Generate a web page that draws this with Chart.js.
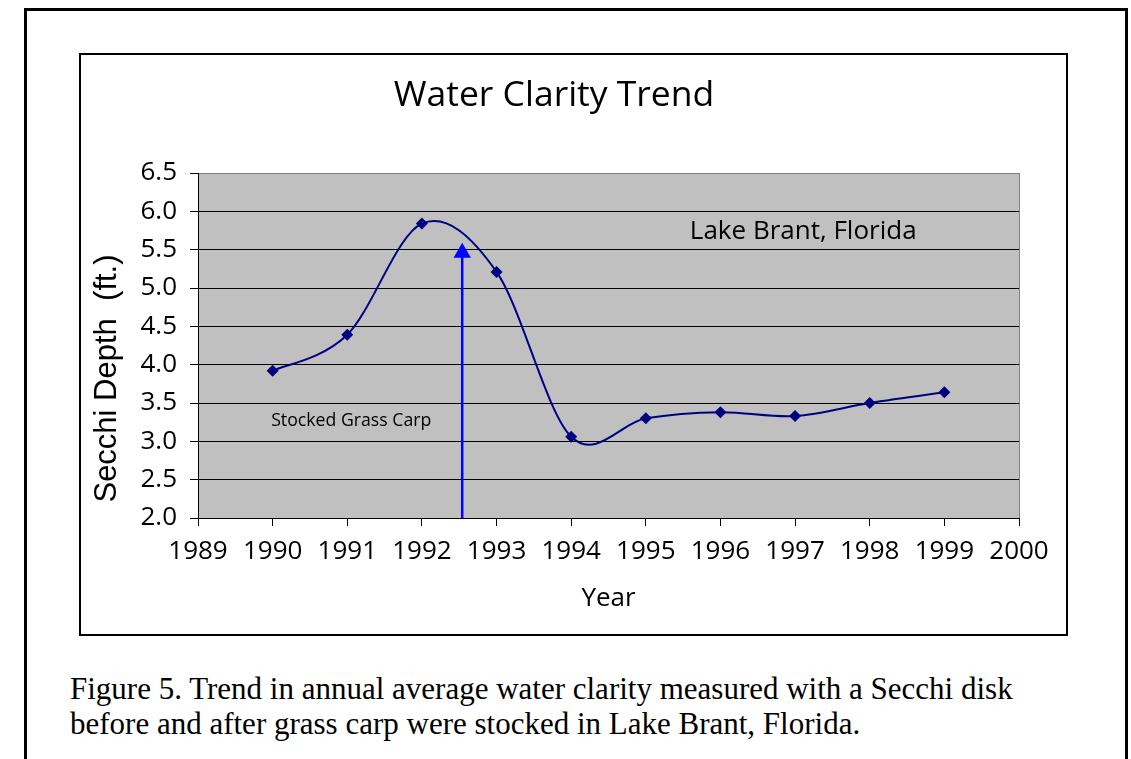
<!DOCTYPE html>
<html>
<head>
<meta charset="utf-8">
<script src="https://cdn.jsdelivr.net/npm/chart.js@4/dist/chart.umd.min.js"></script>
<style>
    body { margin: 0; background: #fff; width: 1131px; height: 759px; overflow: hidden; position: relative; }
    #outer { position: absolute; left: 24px; top: 8px; width: 1098px; height: 800px; border: 3px solid #000; }
    #inner { position: absolute; left: 79px; top: 53px; width: 985px; height: 579px; border: 2px solid #000; }
    #caption { position: absolute; left: 70px; top: 671px; font-family: "Liberation Serif", "Times New Roman", serif;
        font-size: 31px; line-height: 35px; color: #000; white-space: nowrap; }
</style>
</head>
<body>
<div id="outer"></div>
<div id="inner"><canvas id="water-clarity" width="985" height="579"></canvas></div>
<div id="caption">Figure 5. Trend in annual average water clarity measured with a Secchi disk<br>before and after grass carp were stocked in Lake Brant, Florida.</div>
<script>
const years = [1990, 1991, 1992, 1993, 1994, 1995, 1996, 1997, 1998, 1999];
const secchiDepth = [3.92, 4.39, 5.84, 5.21, 3.06, 3.30, 3.38, 3.33, 3.50, 3.64];
const yearTicks = [1989, 1990, 1991, 1992, 1993, 1994, 1995, 1996, 1997, 1998, 1999, 2000];
const depthTicks = [2.0, 2.5, 3.0, 3.5, 4.0, 4.5, 5.0, 5.5, 6.0, 6.5];
const stockingYear = 1992.54;
const arrowDepths = [2.0, 5.46];

const fontFamily = "'Open Sans', sans-serif";

// spreadsheet-style smoothed line: control points at 1/6 of the neighbour chord
const smoothLine = {
    id: 'smoothLine',
    beforeDatasetsDraw(chart) {
        const meta = chart.getDatasetMeta(0);
        meta.dataset.updateControlPoints(chart.chartArea, 'x');
        const pts = meta.data;
        const n = pts.length;
        for (let i = 0; i < n; i++) {
            const prev = pts[Math.max(i - 1, 0)];
            const next = pts[Math.min(i + 1, n - 1)];
            const tx = (next.x - prev.x) / 6;
            const ty = (next.y - prev.y) / 6;
            pts[i].cp1x = pts[i].x - tx;
            pts[i].cp1y = pts[i].y - ty;
            pts[i].cp2x = pts[i].x + tx;
            pts[i].cp2y = pts[i].y + ty;
        }
    }
};

// background, right frame edge and the text notes inside the plot
const plotDecorations = {
    id: 'plotDecorations',
    beforeDraw(chart) {
        const {ctx, chartArea: a} = chart;
        ctx.save();
        ctx.fillStyle = '#c0c0c0';
        ctx.fillRect(a.left, a.top, a.right - a.left, a.bottom - a.top);
        ctx.restore();
    },
    beforeDatasetsDraw(chart) {
        const {ctx, chartArea: a} = chart;
        ctx.save();
        ctx.strokeStyle = '#808080';
        ctx.lineWidth = 1;
        ctx.beginPath();
        ctx.moveTo(a.right + 0.5, a.top);
        ctx.lineTo(a.right + 0.5, a.bottom);
        ctx.stroke();
        ctx.restore();
    },
    afterDraw(chart) {
        const {ctx, chartArea: a, scales: {x, y}} = chart;
        ctx.save();
        ctx.fillStyle = '#000';
        ctx.textBaseline = 'middle';
        ctx.textAlign = 'left';
        ctx.font = '26px ' + fontFamily;
        ctx.fillText('Lake Brant, Florida', x.getPixelForValue(1995.59), y.getPixelForValue(5.73));
        ctx.font = '17.7px ' + fontFamily;
        ctx.fillText('Stocked Grass Carp', x.getPixelForValue(1989.98), y.getPixelForValue(3.27));

        ctx.translate(26, (a.top + a.bottom) / 2 + 33);
        ctx.rotate(-Math.PI / 2);
        ctx.textAlign = 'center';
        ctx.font = "31px 'Liberation Sans', Arial, sans-serif";
        ctx.fillText('Secchi Depth  (ft.)', 0, 0);
        ctx.restore();
    }
};

function renderWaterClarityChart() {
    new Chart(document.getElementById('water-clarity'), {
        type: 'line',
        data: {
            datasets: [{
                label: 'Secchi Depth',
                data: years.map((year, i) => ({x: year, y: secchiDepth[i]})),
                borderColor: '#000080',
                backgroundColor: '#000080',
                borderWidth: 2,
                tension: 0.4,
                pointStyle: 'rectRot',
                pointRadius: 6,
                pointBorderWidth: 0
            }, {
                label: 'Stocked Grass Carp',
                data: arrowDepths.map(depth => ({x: stockingYear, y: depth})),
                borderColor: '#0000ff',
                backgroundColor: '#0000ff',
                borderWidth: 2.5,
                tension: 0,
                pointStyle: 'triangle',
                pointRadius: [0, 10],
                pointBorderWidth: 0
            }]
        },
        options: {
            responsive: false,
            animation: false,
            layout: {padding: {left: 8, right: 47, top: 0, bottom: 0}},
            plugins: {
                legend: {display: false},
                tooltip: {enabled: false},
                title: {
                    display: true,
                    text: 'Water Clarity Trend',
                    color: '#000',
                    font: {family: fontFamily, size: 35.5, weight: 'normal'},
                    padding: {top: 20, bottom: 55.4}
                }
            },
            scales: {
                x: {
                    type: 'linear',
                    min: 1989,
                    max: 2000,
                    afterBuildTicks: scale => { scale.ticks = yearTicks.map(v => ({value: v})); },
                    afterFit: scale => { scale.height = 116; },
                    ticks: {
                        color: '#000',
                        font: {family: fontFamily, size: 26},
                        padding: 10,
                        autoSkip: false,
                        maxRotation: 0,
                        callback: v => String(v)
                    },
                    grid: {drawOnChartArea: false, drawTicks: true, tickLength: 8, color: '#000'},
                    border: {color: '#000', width: 1},
                    title: {
                        display: true,
                        text: 'Year',
                        color: '#000',
                        font: {family: fontFamily, size: 26},
                        padding: {top: 0, bottom: 20}
                    }
                },
                y: {
                    min: 2,
                    max: 6.5,
                    afterBuildTicks: scale => { scale.ticks = depthTicks.map(v => ({value: v})); },
                    afterFit: scale => { scale.width = 109; },
                    ticks: {
                        color: '#000',
                        font: {family: fontFamily, size: 26},
                        padding: 13,
                        callback: v => v.toFixed(1)
                    },
                    grid: {
                        color: c => (c.tick && c.tick.value === 6.5) ? '#808080' : '#000',
                        tickColor: '#000',
                        tickLength: 8,
                        lineWidth: 1
                    },
                    border: {color: '#000', width: 1}
                }
            }
        },
        plugins: [smoothLine, plotDecorations]
    });
}

window.onload = renderWaterClarityChart;
</script>
</body>
</html>
